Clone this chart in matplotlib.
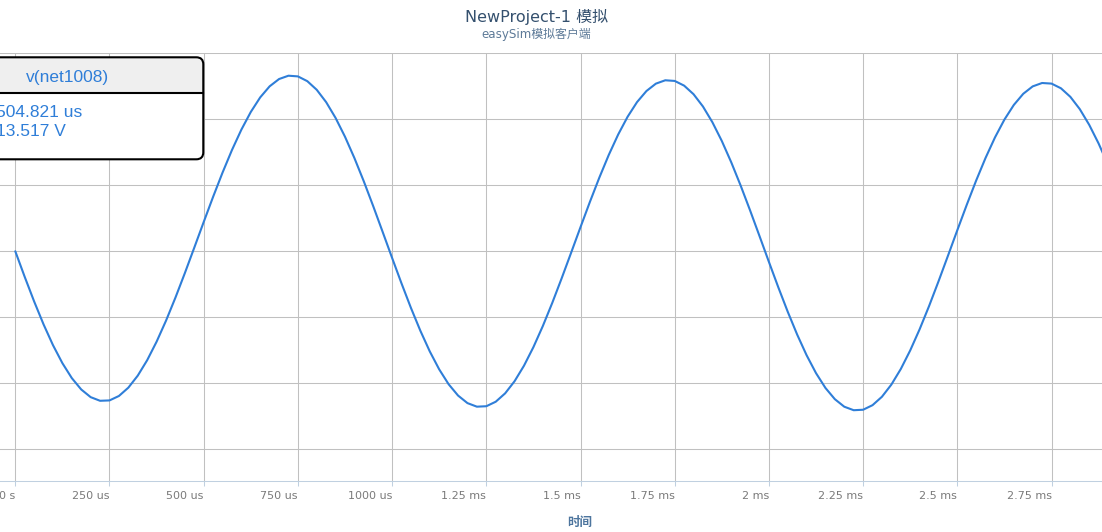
import matplotlib
matplotlib.use('Agg')
import matplotlib.pyplot as plt
from matplotlib.patches import FancyBboxPatch, Rectangle

# ---- data (time in microseconds, voltage in volts) ----
time_us = [
    0, 25, 50, 75, 100, 125, 150, 175, 200, 225, 250, 275, 300, 325, 350, 375,
    400, 425, 450, 475, 500, 525, 550, 575, 600, 625, 650, 675, 700, 725, 750, 775,
    800, 825, 850, 875, 900, 925, 950, 975, 1000, 1025, 1050, 1075, 1100, 1125, 1150, 1175,
    1200, 1225, 1250, 1275, 1300, 1325, 1350, 1375, 1400, 1425, 1450, 1475, 1500, 1525, 1550, 1575,
    1600, 1625, 1650, 1675, 1700, 1725, 1750, 1775, 1800, 1825, 1850, 1875, 1900, 1925, 1950, 1975,
    2000, 2025, 2050, 2075, 2100, 2125, 2150, 2175, 2200, 2225, 2250, 2275, 2300, 2325, 2350, 2375,
    2400, 2425, 2450, 2475, 2500, 2525, 2550, 2575, 2600, 2625, 2650, 2675, 2700, 2725, 2750, 2775,
    2800, 2825, 2850, 2875, 2900,
]
voltage_v = [
    0.00, -9.70, -19.00, -27.69, -35.55, -42.38, -48.04, -52.35, -55.25, -56.63, -56.49, -54.81,
    -51.66, -47.10, -41.25, -34.24, -26.28, -17.54, -8.25, 1.38, 11.09, 20.65, 29.81, 38.36,
    46.08, 52.78, 58.31, 62.49, 65.25, 66.51, 66.25, 64.44, 61.17, 56.49, 50.51, 43.39,
    35.31, 26.46, 17.05, 7.31, -2.51, -12.17, -21.45, -30.10, -37.93, -44.73, -50.36, -54.64,
    -57.51, -58.86, -58.69, -56.99, -53.81, -49.22, -43.34, -36.31, -28.32, -19.56, -10.23, -0.58,
    9.15, 18.73, 27.92, 36.50, 44.24, 50.96, 56.51, 60.71, 63.50, 64.78, 64.53, 62.75,
    59.50, 54.84, 48.89, 41.79, 33.73, 24.90, 15.51, 5.79, -4.01, -13.66, -22.91, -31.55,
    -39.36, -46.15, -51.76, -56.02, -58.87, -60.20, -60.02, -58.29, -55.10, -50.49, -44.60, -37.55,
    -29.54, -20.77, -11.43, -1.77, 7.98, 17.58, 26.79, 35.38, 43.14, 49.88, 55.44, 59.66,
    62.46, 63.75, 63.52, 61.75, 58.51, 53.86, 47.92, 40.83, 32.78,
]
xtick_values_us = [0, 250, 500, 750, 1000, 1250, 1500, 1750, 2000, 2250, 2500, 2750]
xtick_labels = ['0 s', '250 us', '500 us', '750 us', '1000 us', '1.25 ms', '1.5 ms',
                '1.75 ms', '2 ms', '2.25 ms', '2.5 ms', '2.75 ms']
ytick_values = [-75, -50, -25, 0, 25, 50, 75]

title_text = 'NewProject-1 模拟'
subtitle_text = 'easySim模拟客户端'
xaxis_title = '时间'
series_name = 'v(net1008)'
tooltip_time = '504.821 us'
tooltip_value = '13.517 V'

# ---- figure ----
W, H = 1102, 532
fig = plt.figure(figsize=(W / 100, H / 100), dpi=100)
fig.patch.set_facecolor('white')

plot_top, plot_bottom = 52.5, 480.7
ax = fig.add_axes([0, 1 - plot_bottom / H, 1, (plot_bottom - plot_top) / H])
ax.plot(time_us, voltage_v, color='#2f7ed8', lw=1.5,
        solid_joinstyle='round', solid_capstyle='round', zorder=3)
ax.set_xlim(-40.6, 2884)
ax.set_ylim(-86.9, 75.3)

ax.set_yticks(ytick_values)
ax.set_xticks(xtick_values_us)
ax.set_xticklabels(xtick_labels)
for lab in ax.get_xticklabels():
    lab.set_horizontalalignment('right')
ax.tick_params(axis='y', left=False, labelleft=False)
ax.tick_params(axis='x', direction='out', length=3.6, width=0.75, color='#c0d0e0',
               labelsize=8, labelcolor='#7a7a7a', pad=4.0)
ax.grid(True, color='#c0c0c0', lw=0.75, zorder=0)
ax.set_axisbelow(True)
for s in ['left', 'right', 'top']:
    ax.spines[s].set_visible(False)
ax.spines['bottom'].set_color('#c0d0e0')
ax.spines['bottom'].set_linewidth(0.75)

# ---- overlay in pixel coordinates for titles and the tooltip ----
ov = fig.add_axes([0, 0, 1, 1], zorder=5)
ov.set_xlim(0, W)
ov.set_ylim(H, 0)
ov.axis('off')
ov.patch.set_alpha(0)

cjk = ['DejaVu Sans', 'Noto Sans CJK SC']
ov.text(537, 17, title_text, ha='center', va='center', fontsize=11.5,
        color='#34506e', family=cjk)
ov.text(536, 34, subtitle_text, ha='center', va='center', fontsize=8.6,
        color='#5d7a98', family=cjk)
ov.text(580, 522, xaxis_title, ha='center', va='center', fontsize=9,
        fontweight='bold', color='#4d759e', family=['Noto Sans CJK SC', 'DejaVu Sans'])

# tooltip box
bx0, by0, bx1, by1 = -20, 57.3, 203.3, 159.3
box_fill = FancyBboxPatch((bx0, by0), bx1 - bx0, by1 - by0,
                          boxstyle='round,pad=0,rounding_size=7',
                          facecolor='white', edgecolor='none', zorder=1)
ov.add_patch(box_fill)
header = Rectangle((bx0, by0), bx1 - bx0, 92.7 - by0, facecolor='#efefef',
                   edgecolor='none', zorder=2)
ov.add_patch(header)
header.set_clip_path(box_fill)
ov.plot([bx0, bx1], [92.7, 92.7], color='black', lw=1.5, zorder=3)
box_edge = FancyBboxPatch((bx0, by0), bx1 - bx0, by1 - by0,
                          boxstyle='round,pad=0,rounding_size=7',
                          facecolor='none', edgecolor='black', lw=1.5, zorder=4)
ov.add_patch(box_edge)

tip_font = ['Liberation Sans', 'DejaVu Sans']
ov.text(67.5, 77.5, series_name, ha='center', va='center', fontsize=12.5,
        color='#2f7ed8', family=tip_font, zorder=5)
ov.text(-4, 112.7, tooltip_time, ha='left', va='center', fontsize=12.5,
        color='#2f7ed8', family=tip_font, zorder=5)
ov.text(-4, 131, tooltip_value, ha='left', va='center', fontsize=12.5,
        color='#2f7ed8', family=tip_font, zorder=5)

fig.savefig('out.png', dpi=100)
